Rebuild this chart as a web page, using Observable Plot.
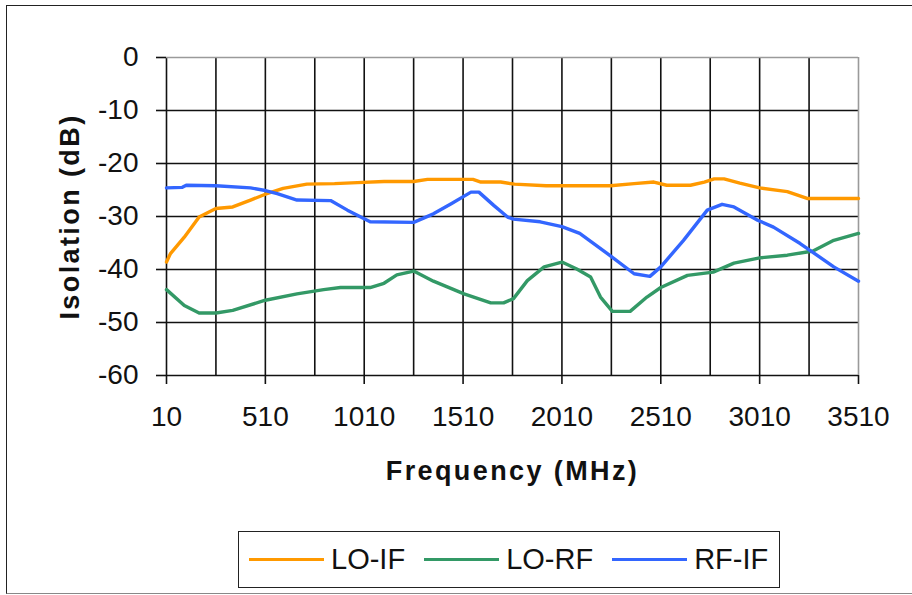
<!DOCTYPE html>
<html>
<head>
<meta charset="utf-8">
<script src="https://cdn.jsdelivr.net/npm/d3@7"></script>
<script src="https://cdn.jsdelivr.net/npm/@observablehq/plot@0.6"></script>
<style>
  html, body { margin: 0; padding: 0; background: #fff; overflow: hidden; }
  body { position: relative; width: 912px; height: 595px; font-family: "Liberation Sans", Arial, sans-serif; }
  #frame { position: absolute; left: 6px; top: 5px; width: 1000px; height: 589px; box-sizing: border-box; z-index: 3; pointer-events: none;
           border-left: 1.5px solid #222; border-top: 1.5px solid #222; border-bottom: 1.5px solid #888; background: none; }
  #chart { position: absolute; left: 0; top: 0; z-index: 1; }
  #legend { position: absolute; left: 238px; top: 531px; width: 542px; height: 57px; box-sizing: border-box; z-index: 2;
            border: 1.5px solid #222; display: flex; align-items: center; padding-left: 10px; white-space: nowrap;
            font: 29px "Liberation Sans", Arial, sans-serif; color: #111; background: #fff; }
  .item { display: flex; align-items: center; margin-right: 19px; white-space: nowrap; flex: none; }
  .sw { width: 75px; height: 3px; margin-right: 7px; flex: none; }
</style>
</head>
<body>
<div id="chart"></div>
<div id="legend"></div>
<div id="frame"></div>
<script>
// ---- data ----
const seriesNames = ["LO-IF", "LO-RF", "RF-IF"];
const seriesColors = ["#FF9900", "#339966", "#3366FF"];

const freqLOIF = [10, 30, 100, 175, 260, 345, 435, 510, 600, 720, 860, 975, 1110, 1260, 1330, 1560, 1600, 1700, 1770, 1930, 2255, 2375, 2475, 2540, 2660, 2730, 2780, 2830, 2910, 3010, 3150, 3250, 3510];
const valLOIF  = [-38.6, -37.0, -33.9, -30.1, -28.5, -28.2, -26.9, -25.8, -24.7, -23.9, -23.8, -23.6, -23.4, -23.4, -23.0, -23.0, -23.5, -23.5, -23.9, -24.2, -24.2, -23.8, -23.5, -24.1, -24.1, -23.5, -22.9, -22.9, -23.7, -24.6, -25.3, -26.6, -26.6];

const freqLORF = [10, 100, 175, 260, 345, 510, 670, 805, 890, 1040, 1110, 1175, 1260, 1360, 1515, 1650, 1715, 1765, 1835, 1920, 2010, 2085, 2155, 2205, 2265, 2355, 2440, 2510, 2645, 2775, 2880, 3010, 3150, 3280, 3385, 3510];
const valLORF  = [-43.8, -46.8, -48.2, -48.2, -47.7, -45.8, -44.6, -43.8, -43.4, -43.4, -42.6, -41.0, -40.3, -42.2, -44.6, -46.3, -46.3, -45.5, -42.1, -39.5, -38.6, -39.9, -41.4, -45.2, -47.9, -47.9, -45.2, -43.4, -41.1, -40.5, -38.8, -37.8, -37.3, -36.5, -34.5, -33.2];

const freqRFIF = [10, 90, 110, 260, 435, 510, 570, 670, 840, 925, 1040, 1260, 1360, 1450, 1550, 1590, 1665, 1735, 1765, 1900, 2010, 2100, 2240, 2375, 2455, 2510, 2625, 2745, 2820, 2880, 3000, 3080, 3215, 3385, 3510];
const valRFIF  = [-24.6, -24.5, -24.1, -24.2, -24.6, -25.1, -25.7, -26.9, -27.0, -28.8, -31.0, -31.1, -29.5, -27.6, -25.4, -25.4, -27.9, -30.1, -30.5, -31.0, -31.9, -33.2, -37.0, -40.8, -41.3, -39.5, -34.5, -28.8, -27.7, -28.2, -30.7, -32.0, -35.1, -39.5, -42.2];

const xTickLabels = [10, 510, 1010, 1510, 2010, 2510, 3010, 3510];
const xGridInner = [10, 260, 510, 760, 1010, 1260, 1510, 1760, 2010, 2260, 2510, 2760, 3010, 3260];
const xEdge = [3510];
const yTicks = [0, -10, -20, -30, -40, -50, -60];
const yGridInner = [-10, -20, -30, -40, -50, -60];
const yEdge = [0];

// ---- build table ----
const rows = [];
[[freqLOIF, valLOIF], [freqLORF, valLORF], [freqRFIF, valRFIF]].forEach(([fs, vs], i) => {
  fs.forEach((f, j) => rows.push({series: seriesNames[i], f, v: vs[j]}));
});

const chart = Plot.plot({
  width: 912,
  height: 520,
  marginLeft: 166,
  marginRight: 54,
  marginTop: 57,
  marginBottom: 145,
  x: {domain: [10, 3510]},
  y: {domain: [-60, 0]},
  color: {domain: seriesNames, range: seriesColors},
  style: {fontFamily: "'Liberation Sans', Arial, sans-serif", fontSize: "28px", color: "#111", background: "transparent", overflow: "visible"},
  marks: [
    Plot.gridX(xGridInner, {stroke: "#111", strokeOpacity: 1, strokeWidth: 1.6}),
    Plot.gridY(yGridInner, {stroke: "#111", strokeOpacity: 1, strokeWidth: 1.6}),
    Plot.ruleX(xEdge, {stroke: "#9a9a9a", strokeWidth: 1.6}),
    Plot.ruleY(yEdge, {stroke: "#9a9a9a", strokeWidth: 1.6}),
    Plot.axisY({ticks: yTicks, tickSize: 10, tickPadding: 18, tickFormat: d => String(d), label: null, stroke: "#111", strokeWidth: 1.6}),
    Plot.axisX({ticks: xTickLabels, tickSize: 9, tickPadding: 22, tickFormat: d => String(d), label: null, stroke: "#111", strokeWidth: 1.6}),
    Plot.line(rows, {x: "f", y: "v", z: "series", stroke: "series", strokeWidth: 3.4, curve: "linear"}),
    Plot.text(["Isolation (dB)"], {frameAnchor: "left", rotate: -90, dx: -88, lineAnchor: "bottom", textAnchor: "middle",
      fontSize: 27, fontWeight: "bold", fill: "#111"}),
    Plot.text(["Frequency (MHz)"], {frameAnchor: "bottom", dy: 104, lineAnchor: "bottom", textAnchor: "middle",
      fontSize: 27, fontWeight: "bold", fill: "#111"})
  ]
});
d3.select(chart).selectAll("text").filter(function() { return this.textContent === "Isolation (dB)" || this.textContent === "Frequency (MHz)"; })
  .style("letter-spacing", "2.4px");
document.getElementById("chart").appendChild(chart);

// ---- legend ----
const legend = d3.select("#legend");
seriesNames.forEach((name, i) => {
  const it = legend.append("div").attr("class", "item");
  it.append("span").attr("class", "sw").style("background", seriesColors[i]);
  it.append("span").text(name);
});
</script>
</body>
</html>
